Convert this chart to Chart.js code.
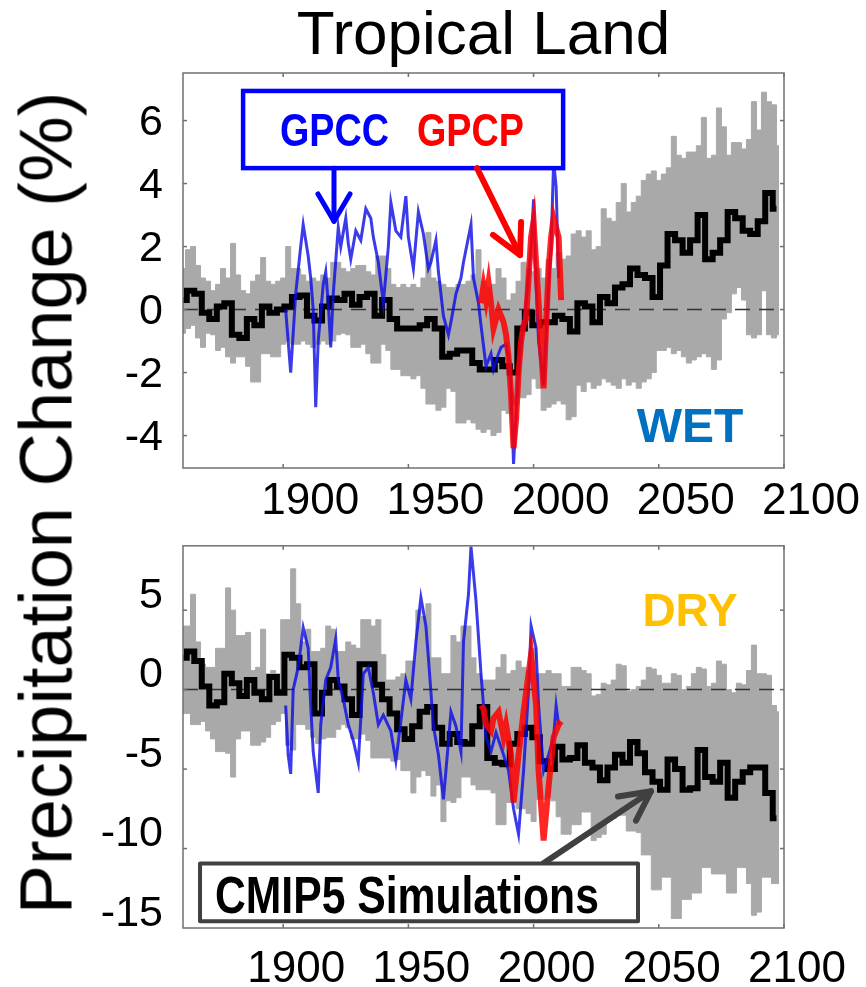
<!DOCTYPE html>
<html>
<head>
<meta charset="utf-8">
<script src="https://cdn.jsdelivr.net/npm/chart.js@4.4.1/dist/chart.umd.min.js"></script>
<style>
html, body { margin: 0; padding: 0; background: #fff; }
#page { position: relative; width: 866px; height: 987px; overflow: hidden; background: #fff; }
#wet { position: absolute; left: 0; top: 0; }
#dry { position: absolute; left: 0; top: 500px; }
#yTitle {
	position: absolute; left: 46px; top: 503px;
	transform: translate(-50%, -50%) rotate(-90deg);
	font: 74px "Liberation Sans", Arial, sans-serif;
	white-space: nowrap; color: #000;
}
</style>
</head>
<body>
<div id="page">
	<canvas id="wet" width="866" height="530"></canvas>
	<canvas id="dry" width="866" height="487"></canvas>
	<div id="yTitle">Precipitation Change (%)</div>
</div>
<script>
'use strict';

function range(start, end, step) {
	var out = [];
	for (var v = start; v <= end; v += step) {
		out.push(v);
	}
	return out;
}

// model spread is on a 2-year grid, the multi-model mean on a 3-year grid
var bandYears = range(1860, 2098, 2),
	meanYears = range(1860, 2097, 3);

var xTicks = [1900, 1950, 2000, 2050, 2100],
	wetYTicks = [-4, -2, 0, 2, 4, 6],
	dryYTicks = [-15, -10, -5, 0, 5];

// ---- WET regions ----
var wetUpper = [
	1.3, 1.9, 2.0, 1.4, 1.0, 0.9, 0.6, 0.8, 1.3, 1.0,
	2.1, 1.1, 0.6, 0.5, 0.9, 1.1, 1.65, 0.9, 0.8, 0.9,
	1.0, 2.0, 1.3, 1.3, 1.1, 0.9, 1.0, 0.9, 1.1, 1.0,
	1.5, 1.5, 1.3, 1.2, 1.3, 1.4, 1.4, 1.2, 1.1, 1.7,
	1.7, 1.3, 0.8, 0.7, 0.8, 0.7, 0.8, 0.7, 1.0, 2.45,
	1.0, 0.9, 0.8, 0.7, 0.7, 0.8, 0.8, 0.9, 1.1, 1.9,
	0.9, 0.7, 0.8, 1.3, 1.0, 0.3, 0.5, 0.9, 1.5, 1.3,
	1.2, 1.3, 1.0, 1.6, 1.3, 1.8, 1.6, 1.7, 2.4, 2.5,
	2.3, 2.5, 1.9, 2.0, 3.2, 2.9, 2.8, 3.4, 4.0, 3.1,
	3.4, 3.6, 4.1, 4.3, 4.4, 4.1, 4.3, 4.5, 5.5, 4.9,
	4.8, 5.0, 5.0, 5.2, 6.1, 4.8, 4.9, 6.4, 5.8, 4.9,
	5.3, 5.3, 5.1, 5.4, 6.6, 5.7, 6.9, 6.6, 6.5, 5.2
];
var wetLower = [
	-0.75, -0.6, -0.5, -0.9, -1.2, -0.75, -0.8, -1.3, -1.2, -1.5,
	-1.7, -1.5, -1.5, -1.8, -2.3, -2.3, -1.4, -1.4, -1.5, -1.5,
	-1.1, -1.0, -1.1, -1.1, -1.0, -1.1, -1.2, -1.1, -1.0, -1.1,
	-1.0, -0.8, -0.75, -0.8, -1.2, -1.2, -1.1, -1.4, -1.7, -1.7,
	-1.1, -1.3, -1.9, -1.9, -2.1, -2.1, -2.2, -2.1, -2.5, -3.0,
	-3.0, -3.2, -3.1, -2.5, -2.6, -3.6, -3.6, -3.5, -3.6, -3.8,
	-3.9, -3.8, -4.0, -3.9, -3.2, -3.3, -3.0, -2.8, -2.8, -2.7,
	-2.2, -2.5, -3.2, -3.1, -3.0, -2.9, -3.0, -3.5, -3.4, -2.4,
	-2.6, -2.3, -2.5, -2.4, -2.2, -2.3, -2.4, -2.5, -2.2, -2.4,
	-2.3, -2.5, -2.3, -2.2, -2.0, -1.3, -1.3, -1.2, -1.4, -1.3,
	-1.5, -1.7, -1.6, -1.5, -1.4, -1.5, -1.9, -1.6, -0.3, -0.1,
	0.5, 0.7, 0.3, -0.8, -0.9, -0.8, 0.6, -0.8, -0.9, -0.8
];
var wetMean = [
	0.3, 0.6, 0.5, -0.1, -0.3, 0.1, 0.2, -0.8, -0.9, -0.3,
	-0.5, 0.1, -0.1, 0.0, 0.1, 0.4, 0.45, -0.2, -0.35, 0.1,
	0.35, 0.3, 0.5, 0.15, 0.4, 0.5, -0.2, 0.3, -0.3, -0.6,
	-0.6, -0.6, -0.5, -0.3, -0.6, -1.5, -1.4, -1.3, -1.3, -1.7,
	-1.9, -1.9, -1.6, -1.8, -2.0, -0.6, -0.1, -0.5, -0.4, -0.4,
	-0.2, -0.3, -0.7, 0.2, 0.1, -0.4, 0.4, 0.2, 0.7, 0.8,
	1.3, 1.1, 1.0, 0.4, 1.4, 2.4, 2.2, 1.8, 2.2, 3.0,
	1.6, 1.8, 2.2, 3.1, 2.9, 2.5, 2.4, 2.8, 3.7, 3.2
];
var wetGpccYears = [
	1901, 1902, 1903, 1905, 1907, 1908, 1910, 1911, 1912, 1913,
	1914, 1916, 1917, 1918, 1919, 1920, 1922, 1923, 1925, 1926,
	1927, 1929, 1931, 1933, 1935, 1936, 1938, 1940, 1942, 1943,
	1945, 1947, 1949, 1950, 1952, 1954, 1956, 1958, 1959, 1961,
	1962, 1964, 1966, 1967, 1969, 1971, 1972, 1975, 1976, 1978,
	1979, 1981, 1983, 1984, 1986, 1987, 1989, 1990, 1991, 1992,
	1994, 1996, 1997, 1999, 2000, 2001, 2002, 2004, 2006, 2007,
	2008, 2009, 2010
];
var wetGpcc = [
	0.0, -1.0, -2.0, 0.5, 2.0, 2.7, 1.7, 1.0, 0.0, -3.1,
	-1.0, 0.8, 1.2, 0.2, -1.2, 0.5, 2.6, 2.0, 2.9, 2.1,
	1.6, 2.5, 2.2, 3.2, 2.9, 2.3, 1.5, 0.2, 2.0, 3.4,
	2.5, 2.3, 3.6, 2.3, 1.3, 3.1, 2.4, 1.3, 1.5, 2.2,
	1.2, -0.2, -0.8, -0.4, 0.5, 1.0, 1.5, 2.7, 1.0, 0.2,
	-0.5, -1.8, -1.4, -1.9, -1.4, -1.2, -1.1, -1.5, -2.5, -4.9,
	-1.9, -0.4, 0.2, 2.0, 3.5, 0.8, -1.0, -2.4, 0.8, 2.0,
	4.7, 3.9, 1.0
];
var gpcpYears = range(1979, 2011, 1);
var wetGpcp = [
	0.2, 0.75, 0.3, 0.85, 0.2, -0.6, -0.3, 0.0, -0.2, -0.4,
	-0.8, -1.5, -2.7, -4.4, -3.5, -2.0, -1.0, -0.5, -0.3, 1.0,
	2.3, 2.8, 1.5, 0.2, -1.2, -2.5, -0.5, 1.3, 2.3, 2.9,
	2.6, 2.3, 0.3
];

// ---- DRY regions ----
var dryUpper = [
	4.0, 4.0, 6.0, 3.0, 1.6, 1.4, 1.4, 2.6, 2.6, 6.4,
	5.0, 3.4, 3.4, 3.6, 1.2, 1.4, 3.8, 1.0, 1.2, 1.0,
	4.4, 4.4, 7.6, 5.4, 3.0, 3.8, 2.4, 2.4, 2.6, 4.0,
	3.8, 2.4, 2.4, 3.0, 2.8, 2.6, 4.4, 4.4, 4.0, 4.4,
	2.2, 0.6, 0.6, 0.8, 1.0, 1.8, 1.8, 5.0, 4.6, 5.4,
	2.0, 2.0, 1.0, 1.0, 3.4, 3.0, 4.0, 4.0, 2.0, 1.0,
	0.6, 0.6, 0.6, 1.4, 2.2, 1.0, 1.2, 1.8, 1.4, 1.2,
	2.6, 1.0, 1.0, 1.2, 1.0, 1.0, 0.2, 0.2, 1.4, 1.4,
	1.2, 1.0, -0.4, -0.3, 0.4, 0.3, 0.6, 1.6, 1.5, -0.1,
	0.0, 0.2, 0.6, 1.4, 1.3, 0.9, 0.4, 0.4, 1.0, 0.9,
	0.0, 0.2, 1.0, 1.4, 1.3, 0.2, 0.4, 1.8, 1.6, 0.0,
	-0.2, 0.4, 0.3, 1.2, 2.8, 1.0, 1.0, 0.9, -1.0, -1.4
];
var dryLower = [
	-1.5, -1.5, -2.2, -2.2, -2.0, -2.6, -3.1, -3.9, -3.9, -4.0,
	-5.5, -3.1, -2.6, -2.6, -3.5, -3.5, -3.3, -3.0, -2.2, -2.0,
	-1.5, -3.5, -3.8, -2.2, -2.2, -2.5, -3.0, -3.4, -3.1, -3.0,
	-3.0, -2.5, -2.2, -2.4, -3.1, -3.1, -2.8, -3.2, -4.3, -4.3,
	-4.3, -4.3, -4.5, -4.4, -5.1, -5.1, -6.5, -5.5, -5.1, -5.4,
	-6.7, -6.0, -8.3, -7.0, -7.1, -6.8, -5.5, -5.5, -6.0, -6.3,
	-6.3, -6.3, -6.5, -8.5, -8.5, -7.1, -7.1, -7.5, -7.5, -7.8,
	-8.3, -6.9, -6.9, -6.8, -7.0, -8.0, -9.1, -9.1, -8.5, -8.5,
	-7.7, -7.7, -9.5, -9.3, -9.1, -8.1, -8.1, -7.9, -7.9, -8.9,
	-8.9, -9.0, -10.4, -10.4, -12.6, -12.6, -11.8, -11.8, -14.4, -14.4,
	-13.2, -13.2, -12.8, -12.8, -11.2, -11.2, -11.6, -11.6, -11.6, -12.8,
	-12.8, -11.2, -11.2, -12.2, -14.2, -14.0, -11.8, -11.8, -12.2, -12.2
];
var dryMean = [
	2.0, 2.4, 1.8, 0.2, -1.0, -0.8, 1.0, 0.4, -0.4, 0.6,
	-0.2, -0.6, 0.8, -0.2, 2.2, 2.0, 1.4, 1.6, -1.5, -0.2,
	0.6, 0.2, -0.6, -1.6, 1.6, 1.6, 0.3, -0.6, -1.5, -2.5,
	-3.1, -2.3, -1.4, -1.1, -2.4, -3.4, -2.8, -3.3, -3.4, -2.3,
	-1.1, -4.3, -4.6, -4.7, -3.4, -2.8, -2.4, -3.0, -4.5, -5.0,
	-3.6, -4.4, -4.3, -3.5, -4.6, -4.9, -5.7, -4.9, -4.1, -4.6,
	-3.3, -4.0, -5.2, -5.8, -6.3, -4.4, -5.0, -6.3, -6.2, -3.8,
	-5.5, -5.8, -4.6, -6.8, -5.8, -5.2, -4.9, -4.9, -6.5, -8.1
];
var dryGpccYears = [
	1901, 1902, 1903, 1904, 1906, 1908, 1910, 1911, 1912, 1914,
	1915, 1917, 1919, 1921, 1922, 1924, 1926, 1928, 1930, 1932,
	1934, 1936, 1938, 1940, 1943, 1945, 1947, 1949, 1951, 1953,
	1955, 1957, 1958, 1960, 1962, 1964, 1965, 1967, 1969, 1971,
	1972, 1974, 1975, 1977, 1979, 1980, 1981, 1983, 1985, 1988,
	1990, 1992, 1994, 1996, 1998, 1999, 2001, 2002, 2004, 2006,
	2008, 2009, 2010
];
var dryGpcc = [
	-1.0, -4.1, -5.3, 0.0, 1.4, 3.9, 2.6, -1.0, -3.9, -6.5,
	-2.2, 0.6, 1.4, 3.2, 0.6, -0.6, -2.2, -3.2, -4.6, 1.0,
	1.4, -0.2, -2.2, -1.6, -2.6, -4.5, -2.0, 0.6, -0.6, 3.0,
	5.8, 4.0, 2.0, -2.3, -4.1, -6.9, -5.1, -1.4, -2.3, -3.9,
	3.0, 6.0, 9.0, 5.6, 1.0, -1.0, -3.0, -3.9, -2.7, -4.1,
	-5.1, -7.5, -9.1, -5.1, 0.0, 4.0, 2.6, -1.0, -5.1, -4.1,
	-3.0, -1.0, -2.2
];
var dryGpcpYears = [
	1979, 1980, 1981, 1983, 1984, 1986, 1988, 1989, 1991, 1992,
	1994, 1996, 1998, 1999, 2001, 2002, 2004, 2006, 2008, 2010, 2011
];
var dryGpcp = [
	-1.0, -1.2, -2.2, -2.6, -1.8, -1.4, -3.0, -2.2, -4.1, -7.1,
	-4.1, -1.4, 1.0, 2.2, -1.0, -5.1, -9.5, -6.1, -3.0, -2.2, -2.0
];

var GRAY = '#a9a9a9',
	SANS = '"Liberation Sans", Arial, sans-serif';

function pairs(xs, ys) {
	return xs.map(function (x, i) {
		return { x: x, y: ys[i] };
	});
}

function line(ctx, x0, y0, x1, y1) {
	ctx.beginPath();
	ctx.moveTo(x0, y0);
	ctx.lineTo(x1, y1);
	ctx.stroke();
}

// plot frame with short inward tick marks on all four sides
var framePlugin = {
	id: 'frame',
	afterDatasetsDraw: function (chart) {
		var ctx = chart.ctx,
			a = chart.chartArea,
			xs = chart.scales.x,
			ys = chart.scales.y;
		ctx.save();
		ctx.strokeStyle = '#707070';
		ctx.lineWidth = 1.5;
		ctx.strokeRect(a.left, a.top, a.right - a.left, a.bottom - a.top);
		xs.ticks.forEach(function (t) {
			var px = xs.getPixelForValue(t.value);
			line(ctx, px, a.bottom, px, a.bottom - 4);
			line(ctx, px, a.top, px, a.top + 4);
		});
		ys.ticks.forEach(function (t) {
			var py = ys.getPixelForValue(t.value);
			if (py > a.bottom - 1) {
				return;
			}
			line(ctx, a.left, py, a.left + 4, py);
			line(ctx, a.right, py, a.right - 4, py);
		});
		ctx.restore();
	}
};

// callout boxes, arrows and labels, placed in data coordinates
function notesPlugin(items) {
	return {
		id: 'notes',
		afterDraw: function (chart) {
			var ctx = chart.ctx,
				xs = chart.scales.x,
				ys = chart.scales.y;
			function px(p) {
				return [xs.getPixelForValue(p[0]), ys.getPixelForValue(p[1])];
			}
			ctx.save();
			items.forEach(function (it) {
				var a, b;
				if (it.type === 'box') {
					a = px(it.from);
					b = px(it.to);
					ctx.fillStyle = '#fff';
					ctx.fillRect(a[0], a[1], b[0] - a[0], b[1] - a[1]);
					ctx.strokeStyle = it.color;
					ctx.lineWidth = it.width;
					ctx.strokeRect(a[0], a[1], b[0] - a[0], b[1] - a[1]);
				} else if (it.type === 'arrow') {
					a = px(it.from);
					b = px(it.to);
					ctx.strokeStyle = it.color;
					ctx.lineWidth = it.width;
					ctx.lineCap = 'round';
					ctx.lineJoin = 'round';
					line(ctx, a[0], a[1], b[0], b[1]);
					ctx.beginPath();
					var l = px(it.arms[0]), r = px(it.arms[1]);
					ctx.moveTo(l[0], l[1]);
					ctx.lineTo(b[0], b[1]);
					ctx.lineTo(r[0], r[1]);
					ctx.stroke();
				} else if (it.type === 'text') {
					// squeeze stands in for the narrow bold face of the original
					a = px(it.at);
					ctx.save();
					ctx.translate(a[0], a[1]);
					ctx.scale(it.squeeze || 1, 1);
					ctx.fillStyle = it.color;
					ctx.font = it.font;
					ctx.textAlign = it.align || 'left';
					ctx.textBaseline = 'alphabetic';
					ctx.fillText(it.text, 0, 0);
					ctx.restore();
				}
			});
			ctx.restore();
		}
	};
}

function makeDatasets(upper, lower, mean, gpccYears, gpcc, gpcpYrs, gpcp) {
	return [{
		data: pairs(bandYears, upper),
		borderColor: GRAY,
		backgroundColor: GRAY,
		borderWidth: 1,
		stepped: 'middle',
		fill: '+1',
		order: 6
	}, {
		data: pairs(bandYears, lower),
		borderColor: GRAY,
		borderWidth: 1,
		stepped: 'middle',
		fill: false,
		order: 7
	}, {
		data: [{ x: 1860, y: 0 }, { x: 2100, y: 0 }],
		borderColor: '#333',
		borderWidth: 1.5,
		borderDash: [15, 9],
		fill: false,
		order: 5
	}, {
		data: pairs(meanYears, mean),
		borderColor: '#000',
		borderWidth: 6,
		stepped: 'middle',
		fill: false,
		order: 4
	}, {
		data: pairs(gpccYears, gpcc),
		borderColor: 'rgba(10, 10, 230, 0.8)',
		borderWidth: 3,
		fill: false,
		order: 3
	}, {
		data: pairs(gpcpYrs, gpcp),
		borderColor: 'rgba(255, 0, 0, 0.85)',
		borderWidth: 6,
		fill: false,
		order: 2
	}];
}

function makeOptions(o) {
	return {
		responsive: false,
		animation: false,
		devicePixelRatio: 1,
		events: [],
		layout: { padding: { top: o.padTop, right: 82, left: 0, bottom: 0 } },
		elements: { point: { radius: 0 }, line: { tension: 0 } },
		plugins: {
			legend: { display: false },
			tooltip: { enabled: false },
			title: o.title
		},
		scales: {
			x: {
				type: 'linear',
				min: 1860,
				max: 2100,
				grid: { display: false, drawTicks: false },
				border: { display: false },
				afterBuildTicks: function (s) {
					s.ticks = xTicks.map(function (v) { return { value: v }; });
				},
				afterFit: function (s) { s.height = o.xHeight; },
				ticks: {
					color: '#000',
					padding: o.xPad,
					labelOffset: o.xLabelOffset,
					maxRotation: 0,
					font: { family: SANS, size: 44 },
					callback: function (v) { return String(v); }
				}
			},
			y: {
				type: 'linear',
				min: o.yMin,
				max: o.yMax,
				grid: { display: false, drawTicks: false },
				border: { display: false },
				afterBuildTicks: function (s) {
					s.ticks = o.yTicks.map(function (v) { return { value: v }; });
				},
				afterFit: function (s) { s.width = 183; },
				ticks: {
					color: '#000',
					padding: 20,
					labelOffset: o.yLabelOffset,
					font: { family: SANS, size: 43 },
					callback: function (v) { return String(v); }
				}
			}
		}
	};
}

var wetNotes = [
	{ type: 'box', from: [1884.0, 6.94], to: [2011.8, 4.49], color: '#0000ff', width: 4.5 },
	{ type: 'text', at: [1898.7, 5.19], text: 'GPCC', color: '#0000ff', font: 'bold 46px ' + SANS, squeeze: 0.82 },
	{ type: 'text', at: [1953.4, 5.19], text: 'GPCP', color: '#ff0000', font: 'bold 46px ' + SANS, squeeze: 0.82 },
	{ type: 'arrow', from: [1920.3, 4.49], to: [1920.3, 2.8], arms: [[1913.9, 3.67], [1926.7, 3.67]], color: '#0000ff', width: 5 },
	{ type: 'arrow', from: [1977.4, 4.49], to: [1994.6, 1.73], arms: [[1983.8, 2.37], [1995.0, 2.78]], color: '#ff0000', width: 6 },
	{ type: 'text', at: [2062.5, -4.2], text: 'WET', color: '#0070c0', font: 'bold 48px ' + SANS, align: 'center' }
];

var dryNotes = [
	{ type: 'arrow', from: [2003.8, -10.94], to: [2046.9, -6.39], arms: [[2033.7, -6.72], [2040.9, -8.25]], color: '#404040', width: 6 },
	{ type: 'box', from: [1866.8, -10.94], to: [2041.7, -14.58], color: '#404040', width: 4 },
	{ type: 'text', at: [1872.8, -14.03], text: 'CMIP5 Simulations', color: '#000', font: 'bold 52px ' + SANS, squeeze: 0.82 },
	{ type: 'text', at: [2062.5, 4.0], text: 'DRY', color: '#ffc000', font: 'bold 46px ' + SANS, align: 'center' }
];

new Chart(document.getElementById('wet'), {
	type: 'line',
	data: { datasets: makeDatasets(wetUpper, wetLower, wetMean, wetGpccYears, wetGpcc, gpcpYears, wetGpcp) },
	options: makeOptions({
		padTop: 0,
		yMin: -5.03,
		yMax: 7.51,
		yTicks: wetYTicks,
		yLabelOffset: 3,
		xHeight: 62,
		xPad: 7,
		xLabelOffset: 27,
		title: {
			display: true,
			text: 'Tropical Land',
			color: '#000',
			fullSize: false,
			font: { family: SANS, size: 62, weight: 'normal', lineHeight: 1 },
			padding: { top: 6, bottom: 5 }
		}
	}),
	plugins: [framePlugin, notesPlugin(wetNotes)]
});

new Chart(document.getElementById('dry'), {
	type: 'line',
	data: { datasets: makeDatasets(dryUpper, dryLower, dryMean, dryGpccYears, dryGpcc, dryGpcpYears, dryGpcp) },
	options: makeOptions({
		padTop: 33,
		yMin: -15,
		yMax: 9.05,
		yTicks: dryYTicks,
		yLabelOffset: -14,
		xHeight: 59,
		xPad: 15,
		xLabelOffset: 13,
		title: { display: false }
	}),
	plugins: [framePlugin, notesPlugin(dryNotes)]
});
</script>
</body>
</html>
